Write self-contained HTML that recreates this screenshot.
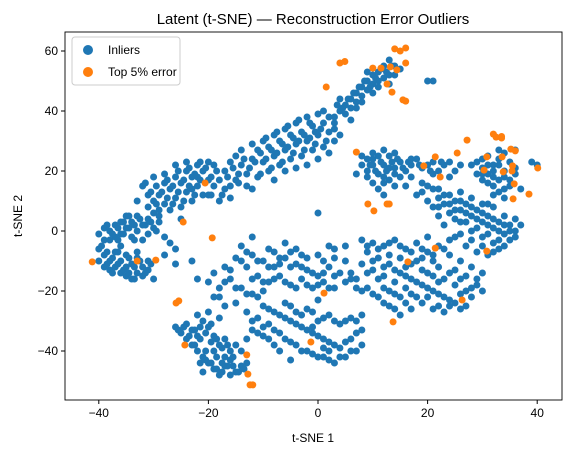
<!DOCTYPE html>
<html><head><meta charset="utf-8"><style>
body{margin:0;background:#fff;}
svg{display:block;font-family:"Liberation Sans","DejaVu Sans",sans-serif;}
</style></head><body>
<svg id="chart" width="574" height="455" viewBox="0 0 574 455">
<rect width="574" height="455" fill="#fff"/>
<text x="313" y="24" text-anchor="middle" font-size="15" fill="#000">Latent (t-SNE) — Reconstruction Error Outliers</text>
<g id="marks"></g>
<g id="axes"></g>
<text x="313" y="442" text-anchor="middle" font-size="12">t-SNE 1</text>
<text transform="translate(22,216) rotate(-90)" text-anchor="middle" font-size="12">t-SNE 2</text>
<g>
<rect x="72" y="37" width="108" height="48" rx="3" fill="#fff" fill-opacity="0.8" stroke="#ccc"/>
<circle cx="88" cy="50" r="5" fill="#1f77b4"/>
<text x="108" y="54" font-size="12">Inliers</text>
<circle cx="88" cy="72" r="5" fill="#ff7f0e"/>
<text x="108" y="76" font-size="12">Top 5% error</text>
</g>
</svg>
<script>
const xTicks=[-40,-20,0,20,40];
const yTicks=[-40,-20,0,20,40,60];
const inliers=[
[-40,-6],[-39,-8],[-38,-10],[-37,-12],[-36,-14],[-35,-15],[-34,-16],[-33,-14],[-32,-12],[-31,-10],[-33,-9],[-35,-8],[-37,-7],[-36,-10],[-34,-11],[-32,-15],[-38,-13],[-40,-10],[-39,-12],[-35,-12],[-33,-7],[-31,-13],[-30,-16],[-36,-5],[-39,-3],
[-39,1],[-38,0],[-37,2],[-36,-1],[-35,1],[-34,3],[-33,0],[-32,2],[-31,4],[-30,1],[-29,3],[-34,-2],[-36,3],[-37,-2],[-38,-3],[-32,-3],[-31,-1],[-35,5],[-33,5],[-30,6],[-28,-2],[-27,-4],[-26,-6],[-28,-8],[-26,-11],[-23,-10],[-40,-1],
[-31,8],[-30,10],[-29,12],[-28,9],[-27,14],[-26,11],[-25,16],[-24,13],[-23,18],[-22,15],[-21,20],[-20,17],[-19,22],[-28,16],[-26,18],[-24,20],[-22,22],[-20,23],[-27,7],[-25,8],[-23,10],[-21,12],[-29,5],[-30,18],[-32,15],[-31,12],[-26,22],[-24,23],[-22,18],[-20,12],[-18,10],[-16,11],[-17,14],[-19,15],[-28,19],[-23,14],[-25,4],[-29,7],[-33,10],
[-17,20],[-16,23],[-15,25],[-14,22],[-13,19],[-12,24],[-11,27],[-10,23],[-9,28],[-8,25],[-7,30],[-6,27],[-5,32],[-4,29],[-3,33],[-2,30],[-1,35],[0,32],[1,36],[2,33],[-15,17],[-13,15],[-11,18],[-9,20],[-7,22],[-5,24],[-3,25],[-1,27],[1,28],[-16,15],[-12,14],[-8,17],[-6,20],[-4,21],[-2,22],[0,24],[2,26],[3,30],[-10,30],[-8,32],[-6,34],[-4,36],[-2,38],[0,39],[-14,27],[-12,29],[2,38],[4,32],[3,36],[-18,17],
[0,6],
[3,38],[4,40],[5,42],[6,44],[7,46],[8,48],[9,50],[10,52],[11,53],[12,55],[13,57],[5,39],[6,41],[7,43],[8,45],[9,47],[10,49],[11,50],[12,51],[14,52],[15,54],[6,37],[4,44],[9,53],[13,49],[20,50],[21,50],
[8,22],[9,20],[10,24],[11,19],[12,22],[13,25],[14,21],[15,23],[16,20],[17,22],[18,24],[19,21],[20,22],[21,23],[22,20],[23,22],[24,23],[9,18],[10,16],[11,14],[13,17],[15,18],[17,18],[19,16],[21,19],[10,26],[12,27],[14,26],[8,25],[25,20],[26,22],[24,18],[7,19],[12,12],[16,15],[20,15],[18,12],[22,14],
[29,23],[30,21],[31,19],[32,22],[33,17],[34,20],[35,15],[32,15],[30,17],[31,25],[33,24],[34,26],[36,19],[35,23],[29,19],[28,22],[33,13],[37,14],[39,23],[40,22],[36,27],[34,11],
[20,10],[21,8],[22,11],[23,9],[24,12],[25,10],[26,7],[27,9],[28,5],[29,7],[30,3],[31,5],[32,1],[33,3],[34,-1],[35,2],[36,0],[24,6],[26,3],[28,0],[30,-2],[32,-4],[27,-5],[25,-2],[29,-7],[31,-8],[33,-6],[22,5],[23,2],[35,-3],[34,5],[36,4],[19,13],[21,14],[37,2],[26,13],[30,9],[32,8],
[8,-3],[10,-4],[12,-5],[14,-3],[16,-6],[18,-4],[20,-7],[22,-5],[24,-8],[26,-10],[28,-12],[30,-14],[9,-7],[11,-9],[13,-11],[15,-14],[17,-16],[19,-18],[21,-20],[23,-22],[25,-24],[27,-20],[29,-18],[26,-16],[24,-14],[22,-12],[20,-14],[18,-10],[16,-12],[14,-17],[12,-15],[10,-13],[8,-11],[7,-16],[9,-19],[11,-22],[13,-25],[15,-28],[17,-26],[19,-24],[21,-26],[23,-27],[17,-21],[15,-22],[13,-20],[27,-25],[28,-22],[20,-2],[24,-3],[30,-20],[5,-10],[6,-14],[3,-6],[5,-5],
[-14,-5],[-12,-8],[-10,-10],[-8,-12],[-6,-9],[-4,-11],[-2,-13],[0,-15],[2,-12],[4,-14],[6,-16],[-13,-12],[-11,-15],[-9,-17],[-7,-15],[-5,-18],[-3,-16],[-1,-19],[1,-17],[3,-19],[-15,-9],[-17,-12],[-16,-16],[-18,-19],[-19,-22],[-20,-17],[-14,-19],[-12,-21],[-10,-20],[-8,-7],[-4,-6],[0,-8],[2,-5],[-2,-9],[-6,-4],[-12,-2],[-19,-14],[-22,-16],[7,-19],[-17,-25],[-15,-24],[-13,-27],
[-10,-25],[-8,-27],[-6,-29],[-4,-31],[-2,-33],[0,-35],[2,-37],[4,-39],[6,-36],[8,-33],[-9,-31],[-7,-34],[-5,-37],[-3,-40],[-1,-41],[1,-42],[3,-44],[-11,-29],[-12,-33],[-13,-36],[-6,-24],[-2,-26],[2,-28],[4,-31],[6,-29],[8,-28],[-4,-27],[0,-30],[2,-40],[5,-42],[7,-40],[-5,-43],[-8,-38],[0,-23],[-10,-35],[8,-38],
[-26,-32],[-25,-34],[-24,-31],[-23,-33],[-22,-35],[-21,-30],[-20,-32],[-19,-35],[-18,-38],[-17,-36],[-16,-40],[-21,-42],[-20,-44],[-19,-46],[-18,-48],[-17,-45],[-16,-43],[-15,-47],[-14,-45],[-13,-44],[-22,-40],[-23,-38],[-19,-40],[-17,-42],[-21,-47],[-16,-48],[-24,-36],[-20,-27],[-18,-29],[-22,-28],[-15,-38],[-14,-40],
[-39.5,-5],[-38.5,-7],[-37.5,-9],[-36.5,-11],[-35.5,-13],[-34.5,-14],[-33.5,-12],[-32.5,-10],[-34.5,-9],[-36.5,-7],[-38.5,-11],[-37.5,-14],[-33.5,-16],[-31.5,-14],[-30.5,-11],
[-38.5,2],[-37.5,-1],[-36.5,1],[-35.5,-1],[-34.5,1],[-33.5,2],[-32.5,4],[-31.5,2],[-30.5,3],[-29.5,0],[-33.5,-3],[-35.5,3],[-34.5,5],[-36.5,-3],
[-30.5,13],[-29.5,9],[-28.5,13],[-27.5,11],[-26.5,15],[-25.5,13],[-24.5,17],[-23.5,15],[-22.5,19],[-21.5,17],[-20.5,21],[-19.5,18],[-27.5,17],[-25.5,20],[-23.5,21],[-21.5,23],[-26.5,9],[-24.5,10],[-22.5,12],[-31.5,16],[-29.5,15],[-18.5,20],[-19.5,12],[-17.5,12],
[-16.5,18],[-15.5,21],[-14.5,19],[-13.5,24],[-12.5,21],[-11.5,23],[-10.5,26],[-9.5,24],[-8.5,27],[-7.5,26],[-6.5,29],[-5.5,28],[-4.5,31],[-3.5,30],[-2.5,32],[-1.5,31],[-0.5,33],[0.5,34],[1.5,30],[-14.5,16],[-10.5,19],[-8.5,21],[-6.5,23],[-4.5,26],[-2.5,27],[-0.5,29],[-9.5,31],[-7.5,33],[-5.5,35],[-3.5,37],[-1.5,36],[1,40],[3,34],
[3.5,42],[4.5,41],[5.5,44],[6.5,46],[7.5,48],[8.5,50],[9.5,48],[10.5,51],[11.5,54],[12.5,53],[13.5,55],[7,41],[8,43],[10,46],[11,48],[13,52],[14,55],
[9.5,22],[10.5,20],[11.5,23],[12.5,20],[13.5,23],[14.5,24],[15.5,21],[16.5,23],[11,25],[13,21],[10,22],[12,18],[14,19],[9,24],[18.5,22],[20.5,20],[22.5,23],[17,24],[12,16],[14,15],
[30,24],[31,22],[32,20],[33,22],[34,18],[31,16],[30,19],[32,18],[33,27],[35,17],[34,14],[32,12],[36,21],
[22,8],[23,12],[24,9],[25,7],[26,10],[27,6],[28,8],[29,4],[30,6],[31,2],[32,4],[33,0],[34,2],[35,0],[29,1],[31,-1],[33,-3],[30,-5],[28,-3],[26,-1],[32,-7],[34,-5],[27,3],[25,4],[36,-2],[28,11],[31,9],
[9,-5],[11,-6],[13,-4],[15,-5],[17,-7],[19,-6],[21,-8],[23,-6],[10,-10],[12,-12],[14,-13],[16,-15],[18,-17],[20,-19],[22,-21],[24,-23],[26,-21],[28,-19],[25,-18],[23,-16],[21,-15],[19,-13],[17,-11],[15,-9],[13,-8],[11,-16],[9,-14],[10,-21],[12,-24],[14,-26],[16,-24],[18,-22],[20,-22],[22,-25],[24,-25],[26,-26],[27,-15],[29,-16],[25,-13],[21,-10],[19,-9],[16,-19],[14,-21],[12,-19],[8,-20],[22,-17],
[-13,-7],[-11,-10],[-9,-12],[-7,-11],[-5,-12],[-3,-12],[-1,-14],[1,-14],[3,-15],[5,-17],[-12,-16],[-10,-17],[-8,-16],[-6,-17],[-4,-19],[-2,-18],[0,-18],[2,-19],[-14,-10],[-16,-13],[-17,-17],[-15,-19],[-13,-21],[-11,-22],[-18,-22],[-7,-9],[-3,-8],[1,-10],[3,-9],[-9,-6],[-5,-7],
[-9,-26],[-7,-28],[-5,-30],[-3,-32],[-1,-34],[1,-36],[3,-38],[5,-37],[7,-34],[-10,-32],[-8,-33],[-6,-36],[-4,-38],[-2,-40],[0,-42],[2,-43],[4,-42],[-12,-30],[-11,-34],[-5,-25],[-3,-28],[1,-29],[3,-30],[5,-30],[7,-30],[-1,-32],[1,-39],[6,-40],[-7,-40],[-9,-36],[-1,-27],
[-25.5,-33],[-24.5,-32],[-23.5,-35],[-22.5,-33],[-21.5,-36],[-20.5,-34],[-19.5,-37],[-18.5,-36],[-17.5,-39],[-16.5,-38],[-20.5,-43],[-19.5,-44],[-18.5,-46],[-17.5,-47],[-16.5,-45],[-15.5,-45],[-14.5,-47],[-13.5,-46],[-21.5,-44],[-22.5,-38],[-20.5,-40],[-18.5,-42],[-17.5,-44],[-15.5,-42],[-19.5,-31],[-21.5,-32]
];
const outliers=[
[-41.2,-10.3],[-33,-10],[-29.6,-9.7],[-24.6,3],[-20.6,16],[-19.3,-2.3],[-25.9,-24],[-25.4,-23.3],[-24.3,-38],[-13,-41.3],[-12.8,-47.7],[-12.4,-51.3],[-11.9,-51.3],
[4,56],[4.9,56.5],[1.5,48],[14,60.7],[15,60],[16,61],[16,56],[10,54.3],[11.5,54.3],[13.2,54.7],[14.4,53.7],[12.6,49],[13.5,46.3],[15.5,43.7],[16,43.3],
[7,26.3],[21.4,24.7],[25.4,26],[27.2,30.3],[19.3,21.7],[22.3,18],[9.1,9],[10.2,6.7],[12.6,9],[13,9],
[32,32.3],[32.5,31.3],[33.5,31.5],[33.5,31],[35.2,27.3],[36,26.7],[30.8,24.7],[33.6,24.7],[30.3,20.3],[33.8,19.7],[35.5,21.7],[35.4,20],[35.8,15.7],[35.6,10.7],[38.5,12.3],[40.1,21],
[21.4,-5.7],[30.8,-6.7],[16.4,-10.3],[26.3,-23],[13.7,-30.3],[1.1,-20.7],[-1.3,-37]
];
const NS='http://www.w3.org/2000/svg';
const L=65,R=562,T=32,B=400;
const xS=v=>318+v*5.48;
const yS=v=>231-v*3;
const marks=document.getElementById('marks');
const axes=document.getElementById('axes');
function dot(p,c,name){
  const e=document.createElementNS(NS,'circle');
  e.setAttribute('cx',xS(p[0]));e.setAttribute('cy',yS(p[1]));e.setAttribute('r',3.5);e.setAttribute('fill',c);
  
  
  marks.appendChild(e);
}
inliers.forEach(p=>dot(p,'#1f77b4','inlier-point'));
outliers.forEach(p=>dot(p,'#ff7f0e','outlier-point'));
const frame=document.createElementNS(NS,'rect');
frame.setAttribute('x',L);frame.setAttribute('y',T);frame.setAttribute('width',R-L);frame.setAttribute('height',B-T);
frame.setAttribute('fill','none');frame.setAttribute('stroke','#000');frame.setAttribute('stroke-width','0.9');


axes.appendChild(frame);
xTicks.forEach(t=>{
  const x=xS(t);
  const l=document.createElementNS(NS,'line');
  l.setAttribute('x1',x);l.setAttribute('x2',x);l.setAttribute('y1',B);l.setAttribute('y2',B+4);l.setAttribute('stroke','#000');
  
  
  axes.appendChild(l);
  const s=document.createElementNS(NS,'text');
  s.setAttribute('x',x);s.setAttribute('y',B+17);s.setAttribute('text-anchor','middle');s.setAttribute('font-size','12');
  s.textContent=(t<0?'\u2212'+(-t):t);
  
  
  axes.appendChild(s);
});
yTicks.forEach(t=>{
  const y=yS(t);
  const l=document.createElementNS(NS,'line');
  l.setAttribute('x1',L-4);l.setAttribute('x2',L);l.setAttribute('y1',y);l.setAttribute('y2',y);l.setAttribute('stroke','#000');
  
  
  axes.appendChild(l);
  const s=document.createElementNS(NS,'text');
  s.setAttribute('x',L-7);s.setAttribute('y',y+4);s.setAttribute('text-anchor','end');s.setAttribute('font-size','12');
  s.textContent=(t<0?'\u2212'+(-t):t);
  
  
  axes.appendChild(s);
});
</script>
</body></html>
